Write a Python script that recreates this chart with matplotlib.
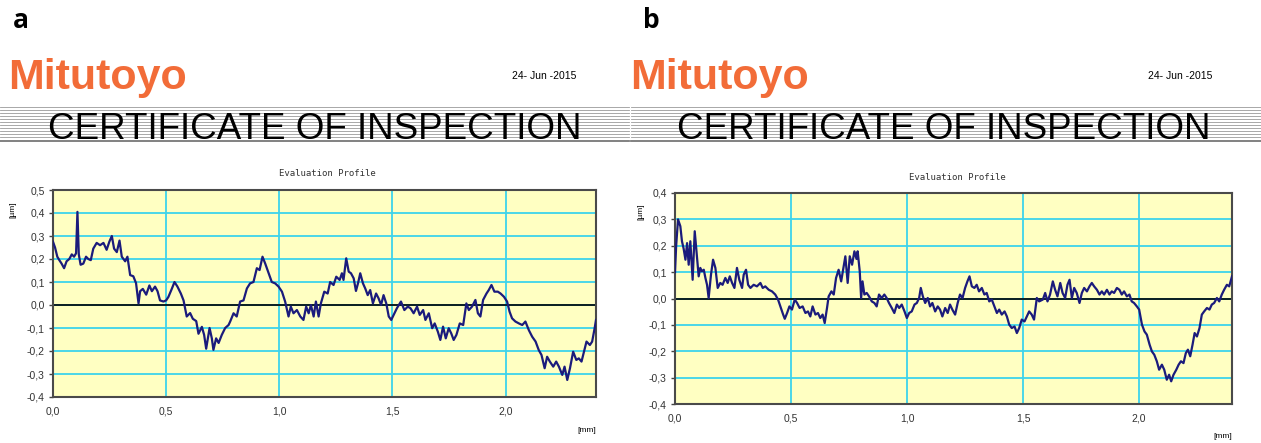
import matplotlib
matplotlib.use("Agg")
import matplotlib.pyplot as plt
from matplotlib.ticker import FuncFormatter

# evaluation profile of sample a: position [mm] / height [um]
a_x = [0.000, 0.009, 0.019, 0.028, 0.038, 0.049, 0.060, 0.072, 0.083, 0.093,
       0.102, 0.108, 0.114, 0.122, 0.134, 0.146, 0.156, 0.167, 0.178, 0.193,
       0.208, 0.223, 0.237, 0.249, 0.260, 0.270, 0.282, 0.294, 0.304, 0.319,
       0.329, 0.341, 0.355, 0.367, 0.378, 0.385, 0.397, 0.412, 0.426, 0.437,
       0.451, 0.462, 0.473, 0.488, 0.500, 0.510, 0.525, 0.537, 0.550, 0.565,
       0.577, 0.591, 0.606, 0.618, 0.633, 0.643, 0.658, 0.668, 0.677, 0.692,
       0.702, 0.709, 0.721, 0.732, 0.746, 0.761, 0.776, 0.783, 0.798, 0.812,
       0.827, 0.842, 0.857, 0.871, 0.886, 0.901, 0.913, 0.926, 0.938, 0.953,
       0.967, 0.982, 0.997, 1.012, 1.026, 1.041, 1.051, 1.063, 1.078, 1.093,
       1.107, 1.119, 1.130, 1.140, 1.152, 1.162, 1.174, 1.184, 1.199, 1.214,
       1.225, 1.240, 1.252, 1.267, 1.277, 1.284, 1.296, 1.307, 1.317, 1.329,
       1.339, 1.348, 1.358, 1.370, 1.380, 1.391, 1.402, 1.414, 1.428, 1.439,
       1.450, 1.461, 1.473, 1.484, 1.495, 1.509, 1.520, 1.538, 1.553, 1.568,
       1.580, 1.594, 1.609, 1.621, 1.636, 1.646, 1.661, 1.676, 1.687, 1.701,
       1.712, 1.724, 1.736, 1.749, 1.760, 1.771, 1.783, 1.798, 1.813, 1.827,
       1.838, 1.852, 1.867, 1.878, 1.889, 1.901, 1.916, 1.926, 1.938, 1.951,
       1.966, 1.978, 1.993, 2.007, 2.018, 2.029, 2.044, 2.059, 2.074, 2.088,
       2.103, 2.118, 2.133, 2.147, 2.159, 2.173, 2.184, 2.196, 2.211, 2.224,
       2.236, 2.251, 2.261, 2.273, 2.285, 2.299, 2.313, 2.324, 2.336, 2.347,
       2.358, 2.373, 2.383, 2.394, 2.400]
a_y = [0.275, 0.250, 0.210, 0.195, 0.180, 0.160, 0.190, 0.200, 0.220, 0.210,
       0.225, 0.405, 0.220, 0.175, 0.180, 0.210, 0.200, 0.195, 0.245, 0.270,
       0.260, 0.270, 0.240, 0.275, 0.300, 0.245, 0.230, 0.280, 0.210, 0.190,
       0.210, 0.130, 0.125, 0.095, 0.007, 0.060, 0.070, 0.045, 0.085, 0.060,
       0.080, 0.060, 0.020, 0.015, 0.020, 0.035, 0.070, 0.100, 0.080, 0.050,
       0.020, -0.050, -0.035, -0.060, -0.070, -0.125, -0.095, -0.130, -0.190, -0.100,
       -0.145, -0.195, -0.145, -0.165, -0.130, -0.100, -0.087, -0.072, -0.036, -0.050,
       0.015, 0.020, 0.072, 0.094, 0.100, 0.160, 0.152, 0.210, 0.180, 0.138,
       0.100, 0.094, 0.080, 0.058, 0.015, -0.050, -0.007, -0.036, -0.022, -0.050,
       -0.065, -0.007, -0.036, 0.000, -0.050, 0.015, -0.050, 0.007, 0.058, 0.050,
       0.100, 0.087, 0.123, 0.109, 0.138, 0.109, 0.203, 0.145, 0.138, 0.116,
       0.061, 0.094, 0.138, 0.094, 0.072, 0.043, 0.065, 0.007, 0.050, 0.029,
       0.000, 0.043, 0.007, -0.050, -0.065, -0.036, -0.014, 0.015, -0.022, -0.007,
       -0.014, -0.036, -0.007, -0.043, -0.022, -0.065, -0.036, -0.101, -0.080, -0.116,
       -0.152, -0.094, -0.145, -0.101, -0.123, -0.152, -0.130, -0.080, -0.087, 0.007,
       -0.022, -0.007, 0.022, -0.036, -0.050, 0.022, 0.050, 0.065, 0.087, 0.058,
       0.058, 0.050, 0.036, 0.015, -0.029, -0.058, -0.072, -0.080, -0.087, -0.072,
       -0.109, -0.138, -0.159, -0.196, -0.217, -0.275, -0.225, -0.246, -0.268, -0.246,
       -0.268, -0.304, -0.268, -0.326, -0.275, -0.203, -0.239, -0.232, -0.246, -0.203,
       -0.159, -0.174, -0.159, -0.101, -0.065]

# evaluation profile of sample b
b_x = [0.000, 0.005, 0.013, 0.023, 0.030, 0.037, 0.045, 0.052, 0.059, 0.066,
       0.076, 0.085, 0.095, 0.102, 0.109, 0.116, 0.124, 0.131, 0.138, 0.145,
       0.155, 0.164, 0.174, 0.184, 0.195, 0.205, 0.217, 0.227, 0.236, 0.246,
       0.256, 0.267, 0.277, 0.289, 0.296, 0.306, 0.315, 0.325, 0.339, 0.353,
       0.368, 0.378, 0.389, 0.404, 0.418, 0.432, 0.444, 0.454, 0.466, 0.473,
       0.483, 0.493, 0.504, 0.516, 0.526, 0.537, 0.550, 0.562, 0.573, 0.583,
       0.593, 0.605, 0.616, 0.626, 0.636, 0.645, 0.655, 0.662, 0.674, 0.684,
       0.694, 0.705, 0.716, 0.727, 0.734, 0.744, 0.753, 0.763, 0.773, 0.782,
       0.787, 0.796, 0.802, 0.808, 0.816, 0.826, 0.836, 0.848, 0.859, 0.869,
       0.879, 0.891, 0.902, 0.912, 0.922, 0.934, 0.945, 0.956, 0.966, 0.977,
       0.989, 0.999, 1.009, 1.020, 1.032, 1.042, 1.052, 1.059, 1.068, 1.078,
       1.089, 1.099, 1.109, 1.121, 1.132, 1.142, 1.152, 1.164, 1.175, 1.185,
       1.195, 1.207, 1.218, 1.228, 1.239, 1.250, 1.260, 1.269, 1.279, 1.290,
       1.300, 1.310, 1.322, 1.333, 1.343, 1.354, 1.365, 1.376, 1.387, 1.397,
       1.408, 1.420, 1.430, 1.440, 1.451, 1.463, 1.473, 1.483, 1.494, 1.506,
       1.516, 1.526, 1.537, 1.547, 1.559, 1.569, 1.585, 1.595, 1.605, 1.616,
       1.628, 1.638, 1.648, 1.660, 1.670, 1.681, 1.691, 1.700, 1.710, 1.720,
       1.731, 1.743, 1.753, 1.763, 1.775, 1.786, 1.796, 1.806, 1.818, 1.829,
       1.839, 1.849, 1.861, 1.872, 1.882, 1.892, 1.904, 1.915, 1.925, 1.935,
       1.947, 1.958, 1.968, 1.978, 1.990, 2.000, 2.012, 2.023, 2.033, 2.045,
       2.055, 2.065, 2.076, 2.086, 2.098, 2.108, 2.119, 2.129, 2.138, 2.148,
       2.160, 2.170, 2.180, 2.191, 2.201, 2.210, 2.220, 2.230, 2.239, 2.249,
       2.260, 2.270, 2.280, 2.292, 2.303, 2.313, 2.323, 2.335, 2.345, 2.356,
       2.366, 2.378, 2.388, 2.400]
b_y = [0.100, 0.200, 0.300, 0.274, 0.217, 0.190, 0.147, 0.210, 0.128, 0.217,
       0.071, 0.255, 0.153, 0.084, 0.116, 0.103, 0.109, 0.078, 0.052, 0.002,
       0.090, 0.147, 0.116, 0.040, 0.059, 0.052, 0.078, 0.059, 0.084, 0.059,
       0.040, 0.116, 0.071, 0.040, 0.090, 0.109, 0.052, 0.040, 0.052, 0.046,
       0.059, 0.040, 0.046, 0.033, 0.027, 0.015, -0.004, -0.030, -0.061, -0.077,
       -0.055, -0.030, -0.042, -0.004, -0.017, -0.036, -0.030, -0.055, -0.049, -0.068,
       -0.030, -0.061, -0.055, -0.074, -0.061, -0.093, -0.036, 0.008, 0.027, 0.015,
       0.078, 0.109, 0.065, 0.122, 0.160, 0.059, 0.160, 0.128, 0.179, 0.150,
       0.179, 0.103, 0.002, 0.065, 0.015, 0.021, 0.008, -0.011, -0.017, -0.030,
       0.015, 0.002, 0.015, 0.002, -0.017, -0.036, -0.055, -0.023, -0.036, -0.023,
       -0.049, -0.074, -0.055, -0.049, -0.023, -0.017, 0.002, 0.040, 0.008, -0.017,
       0.002, -0.030, -0.017, -0.049, -0.030, -0.042, -0.068, -0.036, -0.055, -0.023,
       -0.042, -0.061, -0.017, 0.015, 0.002, 0.040, 0.065, 0.084, 0.046, 0.040,
       0.052, 0.027, 0.040, 0.015, 0.021, -0.011, -0.004, -0.030, -0.055, -0.042,
       -0.061, -0.049, -0.068, -0.099, -0.112, -0.106, -0.131, -0.112, -0.080, -0.087,
       -0.068, -0.049, -0.061, -0.080, 0.002, -0.011, -0.004, 0.021, -0.011, 0.015,
       0.065, 0.033, 0.008, 0.059, 0.021, 0.002, 0.052, 0.071, 0.002, 0.040,
       0.021, -0.017, 0.021, 0.040, 0.027, 0.046, 0.059, 0.046, 0.033, 0.015,
       0.027, 0.015, 0.033, 0.015, 0.027, 0.021, 0.040, 0.033, 0.015, 0.027,
       0.008, 0.015, -0.011, -0.017, -0.030, -0.042, -0.099, -0.125, -0.137, -0.175,
       -0.201, -0.213, -0.238, -0.270, -0.251, -0.270, -0.308, -0.289, -0.314, -0.289,
       -0.270, -0.251, -0.238, -0.245, -0.207, -0.194, -0.219, -0.175, -0.131, -0.144,
       -0.112, -0.061, -0.049, -0.036, -0.042, -0.023, -0.017, 0.002, -0.011, 0.015,
       0.033, 0.052, 0.046, 0.084]

a_ylim = (-0.4, 0.5)
b_ylim = (-0.4, 0.4)
x_ticks = [0.0, 0.5, 1.0, 1.5, 2.0]
x_max = 2.4
date_text = "24- Jun -2015"
title_text = "CERTIFICATE OF INSPECTION"
plot_title = "Evaluation Profile"

ORANGE = "#F26C38"
NAVY = "#1B1B7C"
GRID = "#3DD3EC"
SANS = ["Liberation Sans", "DejaVu Sans"]

W, H = 1261, 443
fig = plt.figure(figsize=(W / 100, H / 100), dpi=100)

# overlay in pixel coordinates for the certificate header
over = fig.add_axes([0, 0, 1, 1])
over.set_xlim(0, W)
over.set_ylim(H, 0)
over.axis("off")


def comma(v, pos):
    return f"{v:.1f}".replace(".", ",")


def draw_profile(rect, x, y, ylim):
    ax = fig.add_axes(rect)
    ax.set_facecolor("#FFFFC2")
    ax.set_xlim(0, x_max)
    ax.set_ylim(*ylim)
    yt = [round(ylim[0] + 0.1 * i, 1) for i in range(int(round((ylim[1] - ylim[0]) / 0.1)) + 1)]
    ax.set_yticks(yt)
    ax.set_xticks(x_ticks)
    ax.grid(True, color=GRID, lw=1.3, zorder=1)
    ax.axhline(0, color="black", lw=1.2, zorder=2)
    ax.plot(x, y, color=NAVY, lw=1.6, zorder=3)
    ax.xaxis.set_major_formatter(FuncFormatter(comma))
    ax.yaxis.set_major_formatter(FuncFormatter(comma))
    ax.tick_params(axis="y", length=3, width=1, color="#444", pad=3,
                   labelsize=7.5, labelcolor="#333")
    ax.tick_params(axis="x", length=0, pad=7, labelsize=7.5, labelcolor="#333")
    for lab in ax.get_xticklabels() + ax.get_yticklabels():
        lab.set_family(SANS)
    for s in ax.spines.values():
        s.set_color("#4a4a4a")
        s.set_linewidth(1.5)
    return ax


def draw_header(x0, x1, label, lx, logo_x, date_x, title_cx, eval_cx, eval_y):
    over.text(lx, 20, label, fontsize=19, fontweight="bold", ha="left", va="center",
              family=["Open Sans", "DejaVu Sans"])
    over.text(logo_x, 89, "Mitutoyo", fontsize=31, fontweight="bold", color=ORANGE,
              ha="left", va="baseline", family=SANS)
    over.text(date_x, 76, date_text, fontsize=7.5, ha="left", va="center", family=SANS)
    for yy in range(107, 140, 3):
        over.plot([x0, x1], [yy, yy], color="#9a9a9a", lw=0.6)
    over.plot([x0, x1], [141, 141], color="#777777", lw=1.3)
    over.text(title_cx, 139, title_text, fontsize=26.5, ha="center", va="baseline",
              family=SANS)
    over.text(eval_cx, eval_y, plot_title, fontsize=6.5, ha="center", va="center",
              family="DejaVu Sans Mono", color="#333")


draw_header(0, 629, "a", 13, 8, 512, 315, 327, 173)
draw_header(631, W, "b", 643, 630, 1148, 944, 957, 177)

draw_profile([53 / W, 1 - 397 / H, 543 / W, 207 / H], a_x, a_y, a_ylim)
draw_profile([675 / W, 1 - 404 / H, 557 / W, 211 / H], b_x, b_y, b_ylim)

# unit labels
over.text(13, 210, "[\u00b5m]", rotation=90, fontsize=6, ha="center", va="center", family=SANS)
over.text(641, 212, "[\u00b5m]", rotation=90, fontsize=6, ha="center", va="center", family=SANS)
over.text(587, 431, "[mm]", fontsize=6, ha="center", va="center", family=SANS)
over.text(1223, 437, "[mm]", fontsize=6, ha="center", va="center", family=SANS)

fig.savefig("out.png", dpi=100, facecolor="white")
